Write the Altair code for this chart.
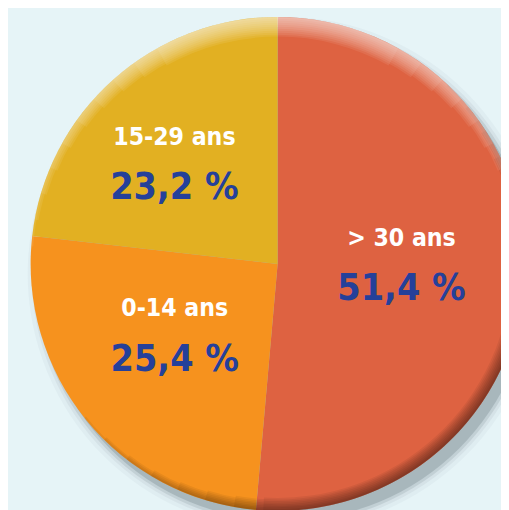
import altair as alt
import pandas as pd

categories = ["> 30 ans", "0-14 ans", "15-29 ans"]
values = [51.4, 25.4, 23.2]
pct_labels = ["51,4 %", "25,4 %", "23,2 %"]
colors = ["#DE6241", "#F6921E", "#E2B022"]
order = [1, 2, 3]

df = pd.DataFrame({"cat": categories, "val": values, "pct": pct_labels, "ord": order})

CX, CY, R = 274, 256, 251
TAU = 6.283185307
theta_scale = alt.Scale(domain=[0, 100], range=[0, TAU])

base = alt.Chart(df).encode(x=alt.value(CX), y=alt.value(CY))

deco = alt.Chart(df.head(1))

def ring(r1, r2, t1, t2, color, op, dx=0, dy=0):
    return deco.mark_arc(radius=r1, radius2=r2, theta=t1, theta2=t2,
                         color=color, opacity=op).encode(
        x=alt.value(CX + dx), y=alt.value(CY + dy))

shadow = [
    ring(R + 10, 0, 0, TAU, "#7d8e94", 0.06, 7, 10),
    ring(R + 6, 0, 0, TAU, "#7d8e94", 0.1, 7, 10),
    ring(R + 3, 0, 0, TAU, "#6d7e84", 0.18, 7, 10),
    ring(R, 0, 0, TAU, "#6d7e84", 0.3, 7, 10),
]

slices = base.mark_arc(radius=R).encode(
    theta=alt.Theta("val:Q", stack=True, scale=theta_scale),
    order=alt.Order("ord:Q"),
    color=alt.Color("cat:N", scale=alt.Scale(domain=categories, range=colors), legend=None),
)

# darker rim on lower right, highlight on top (many faint steps for a soft gradient)
rim = []
for i in range(8):
    w = 2 + i * 1.6
    half = 0.8 + (7 - i) * 0.12
    rim.append(ring(R, R - w, 2.4 - half, 2.4 + half, "#000000", 0.06))
high = []
for i in range(10):
    w = 2 + i * 2
    half = 1.5 - i * 0.11
    high.append(ring(R, R - w, TAU - half, TAU + half, "#ffffff", 0.08))

font = "Liberation Sans Narrow, DejaVu Sans Condensed, Roboto, sans-serif"
offsets = {"> 30 ans": (-9, -5), "0-14 ans": (0, -13), "15-29 ans": (-15, -1)}
texts = []
for c in categories:
    dx, dy = offsets[c]
    t = base.transform_window(
        cum="sum(val)", sort=[alt.SortField("ord")],
        frame=[None, 0],
    ).transform_calculate(mid="datum.cum - datum.val / 2").transform_filter(
        alt.datum.cat == c
    ).encode(theta=alt.Theta("mid:Q", stack=None, scale=theta_scale))
    texts.append(t.mark_text(radius=135, dx=dx, dy=dy - 27, font=font, fontSize=25,
                             fontWeight="bold", color="white").encode(text="cat:N"))
    texts.append(t.mark_text(radius=135, dx=dx, dy=dy + 25, font=font, fontSize=38,
                             fontWeight="bold", color="#25409A").encode(text="pct:N"))

chart = alt.layer(*shadow, slices, *rim, *high, *texts).properties(
    width=501, height=502,
    autosize=alt.AutoSizeParams(type="none"),
    padding=0,
    background="#E6F4F7",
).configure_view(stroke=None)

chart.save("out.html", embed_options={"renderer": "svg", "actions": False})
